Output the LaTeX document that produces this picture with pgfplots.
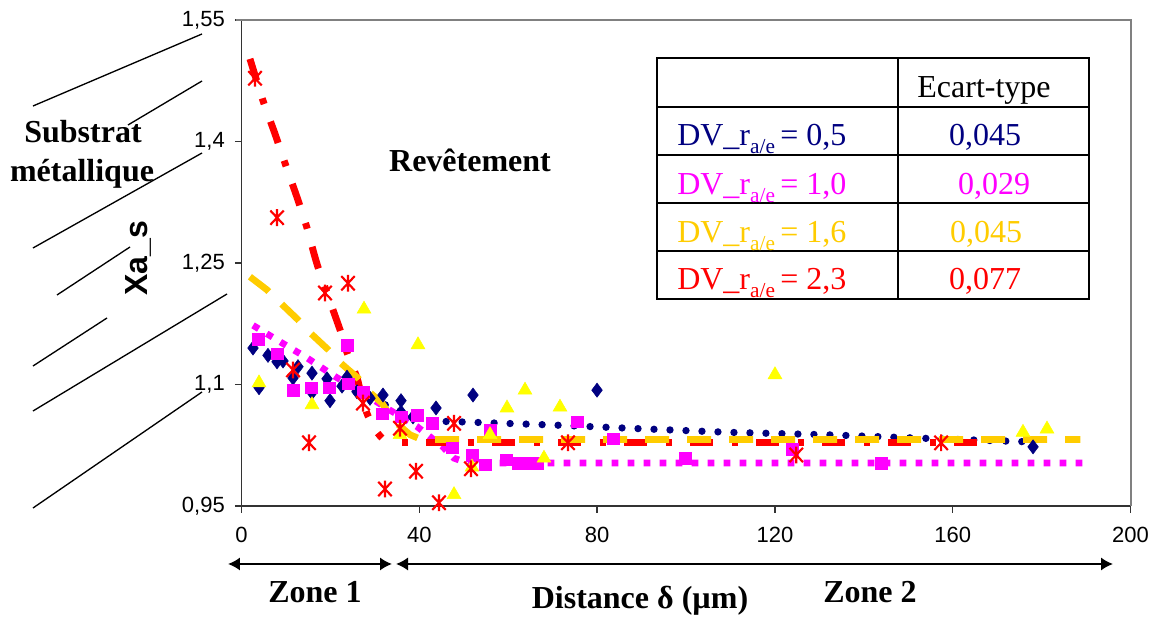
\documentclass[border=0pt]{standalone}
\usepackage{pgfplots}
\pgfplotsset{compat=1.18}
\usepackage{fontspec}
\setmainfont{Liberation Serif}
\setsansfont{Liberation Sans}
\usetikzlibrary{arrows.meta}
\definecolor{navy}{RGB}{0,0,128}
\definecolor{mag}{RGB}{255,0,255}
\definecolor{yel}{RGB}{255,255,0}
\definecolor{gold}{RGB}{255,204,0}
\definecolor{axgray}{RGB}{128,128,128}
\pgfdeclareplotmark{xstar}{%
  \pgfpathmoveto{\pgfqpoint{0pt}{\pgfplotmarksize}}%
  \pgfpathlineto{\pgfqpoint{0pt}{-\pgfplotmarksize}}%
  \pgfpathmoveto{\pgfqpoint{-0.8\pgfplotmarksize}{0.85\pgfplotmarksize}}%
  \pgfpathlineto{\pgfqpoint{0.8\pgfplotmarksize}{-0.85\pgfplotmarksize}}%
  \pgfpathmoveto{\pgfqpoint{-0.8\pgfplotmarksize}{-0.85\pgfplotmarksize}}%
  \pgfpathlineto{\pgfqpoint{0.8\pgfplotmarksize}{0.85\pgfplotmarksize}}%
  \pgfusepathqstroke}
\begin{document}
\begin{tikzpicture}
\begin{axis}[
  scale only axis, width=666.75pt, height=364.5pt,
  xmin=0, xmax=200, ymin=0.95, ymax=1.55,
  xtick={0,40,...,200}, ytick={0.95,1.1,1.25,1.4,1.55},
  axis x line*=bottom, axis y line*=left,
  axis line style={line width=1.3pt, color=black!80, -},
  tick align=outside, major tick length=5pt,
  tick style={line width=1pt, black!80},
  /pgf/number format/assume math mode=true,
  yticklabel style={/pgf/number format/fixed, /pgf/number format/precision=2, /pgf/number format/use comma, xshift=-4pt},
  xticklabel style={yshift=-7pt},
  ticklabel style={font=\sffamily\fontsize{16.5}{18}\selectfont},
  clip=false,
]
% ---- markers ----
\addplot[only marks, mark=diamond*, mark size=5.3pt, color=navy] coordinates {
(2.59,1.145) (3.94,1.096) (5.96,1.136) (7.99,1.128) (9.34,1.129) (11.59,1.108)
(12.71,1.122) (15.86,1.114) (15.86,1.090) (19.24,1.107) (19.91,1.080) (22.61,1.098)
(23.73,1.109) (25.98,1.091) (28.91,1.083) (31.83,1.087) (35.88,1.080) (35.88,1.066)
(38.58,1.060) (43.76,1.071) (52.08,1.087) (79.98,1.093) (178.08,1.023)};
\addplot[only marks, mark=square*, mark size=4.4pt, color=mag] coordinates {
(3.71,1.156) (7.99,1.138) (11.59,1.093) (15.64,1.096) (19.69,1.096) (23.73,1.148)
(23.96,1.101) (27.33,1.090) (31.61,1.064) (35.88,1.060) (39.48,1.062) (42.87,1.052)
(47.37,1.022) (51.86,1.013) (54.78,1.001) (55.91,1.044) (59.51,1.007) (62.21,1.003)
(64.23,1.003) (66.48,1.003) (75.48,1.054) (83.58,1.033) (99.78,1.009) (123.85,1.020)
(143.87,1.003)};
\addplot[only marks, mark=triangle*, mark size=6pt, color=yel] coordinates {
(3.94,1.102) (15.86,1.075) (27.56,1.193) (35.66,1.038) (39.71,1.149) (47.81,0.964)
(51.86,0.998) (55.91,1.038) (59.73,1.071) (63.78,1.093) (68.05,1.009) (71.65,1.072)
(120.02,1.112) (175.81,1.041) (181.21,1.045)};
\addplot[only marks, mark=xstar, mark size=6.3pt, color=red, line width=1.6pt] coordinates {
(3.04,1.478) (7.99,1.306) (11.59,1.118) (15.19,1.028) (18.79,1.213) (23.96,1.225)
(27.33,1.077) (32.28,0.971) (35.66,1.046) (39.26,0.993) (44.43,0.954) (47.81,1.052)
(51.63,0.996) (73.45,1.028) (124.8,1.013) (157.4,1.028)};
% ---- trend lines ----
\addplot[navy, line width=5.5pt, line cap=round, dash pattern=on 0pt off 12pt] coordinates {
(2.6,1.145) (9.3,1.128) (16.1,1.114) (22.8,1.099) (28.9,1.083) (36.1,1.066)
(41.3,1.055) (48.5,1.054) (59.3,1.052) (70,1.050) (91.5,1.045) (109.4,1.041)
(131.3,1.038) (156.5,1.033) (178.1,1.029)};
\addplot[mag, line width=5pt, line cap=butt, dash pattern=on 5pt off 7pt] coordinates {
(2.6,1.173) (8.9,1.152) (14.7,1.133) (21.0,1.110) (27.1,1.090) (33.2,1.069)
(39.5,1.048) (45.3,1.023) (47.8,1.009) (51,1.003) (190,1.003)};
\addplot[red, line width=5.2pt, line cap=butt, dash pattern=on 17pt off 14pt on 4.5pt off 14pt, smooth, tension=0.4] coordinates {
(1.9,1.502) (4.8,1.451) (7.5,1.410) (9.8,1.373) (12.5,1.331) (14.7,1.294)
(17.2,1.245) (22.2,1.167) (23.7,1.140) (26.0,1.108) (27.1,1.083) (28.4,1.062)
(30.5,1.041) (31.6,1.034)};
\addplot[red, line width=5pt, line cap=butt, dash pattern=on 4.5pt off 14pt on 17pt off 14pt] coordinates {
(36,1.028) (169,1.028)};
\addplot[gold, line width=5pt, line cap=butt, dash pattern=on 18pt off 13.5pt] coordinates {
(1.9,1.233) (5.7,1.217) (8.7,1.201) (12.7,1.180) (15.4,1.164) (19.5,1.143)
(22.2,1.127) (26.2,1.108) (28.9,1.090) (31.6,1.077) (34.1,1.056) (37.9,1.038)
(40.5,1.032) (188.7,1.032)};
\end{axis}
\begin{scope}[xshift=-181.125pt, yshift=379.5pt, x=0.75pt, y=-0.75pt]
  % plot-area border (top, right)
  \draw[axgray, line width=1.5pt] (236,20) -- (1131,20) -- (1131,506);
  % substrate hatching
  \draw[line width=1pt] (33,106) -- (202,34);
  \draw[line width=1pt] (128,125) -- (202,81);
  \draw[line width=1pt] (33,248) -- (202,153);
  \draw[line width=1pt] (57,295) -- (130,247);
  \draw[line width=1pt] (33,366) -- (107,318);
  \draw[line width=1pt] (33,411) -- (227,294);
  \draw[line width=1pt] (33,508) -- (202,392);
  \node[anchor=base, inner sep=0pt, font=\bfseries\fontsize{24}{28}\selectfont] at (83,143) {Substrat};
  \node[anchor=base, inner sep=0pt, font=\bfseries\fontsize{24}{28}\selectfont] at (82,182) {métallique};
  \node[anchor=base, rotate=90, inner sep=0pt, font=\sffamily\bfseries\fontsize{24}{28}\selectfont] at (148,258) {Xa\_s};
  \node[anchor=base, inner sep=0pt, font=\bfseries\fontsize{24}{28}\selectfont] at (470,172) {Revêtement};
  % table
  \draw[line width=1.5pt] (657,58) rectangle (1089,299);
  \foreach \yy in {107,155,203,251} \draw[line width=1.5pt] (657,\yy) -- (1089,\yy);
  \draw[line width=1.5pt] (898,58) -- (898,299);
  \def\sub#1{\raisebox{-0.22em}{\fontsize{16}{16}\selectfont #1}}
  \node[anchor=base, inner sep=0pt, font=\fontsize{24}{28}\selectfont] at (984,98) {Ecart-type};
  \node[anchor=base west, inner sep=0pt, text=navy, font=\fontsize{24}{28}\selectfont] at (677,146) {DV\_r\sub{a/e}\,= 0,5};
  \node[anchor=base west, inner sep=0pt, text=mag, font=\fontsize{24}{28}\selectfont] at (677,195) {DV\_r\sub{a/e}\,= 1,0};
  \node[anchor=base west, inner sep=0pt, text=gold, font=\fontsize{24}{28}\selectfont] at (677,243) {DV\_r\sub{a/e}\,= 1,6};
  \node[anchor=base west, inner sep=0pt, text=red, font=\fontsize{24}{28}\selectfont] at (677,290) {DV\_r\sub{a/e}\,= 2,3};
  \node[anchor=base, inner sep=0pt, text=navy, font=\fontsize{24}{28}\selectfont] at (985,146) {0,045};
  \node[anchor=base, inner sep=0pt, text=mag, font=\fontsize{24}{28}\selectfont] at (994,195) {0,029};
  \node[anchor=base, inner sep=0pt, text=gold, font=\fontsize{24}{28}\selectfont] at (986,243) {0,045};
  \node[anchor=base, inner sep=0pt, text=red, font=\fontsize{24}{28}\selectfont] at (985,290) {0,077};
  % zone arrows
  \draw[line width=1.6pt, {Latex[length=9pt,width=10pt]}-{Latex[length=9pt,width=10pt]}] (228,564) -- (392,564);
  \draw[line width=1.6pt, {Latex[length=9pt,width=10pt]}-{Latex[length=9pt,width=10pt]}] (396,564) -- (1113,564);
  \node[anchor=base, inner sep=0pt, font=\bfseries\fontsize{24}{28}\selectfont] at (315,603) {Zone 1};
  \node[anchor=base, inner sep=0pt, font=\bfseries\fontsize{24}{28}\selectfont] at (640,609) {Distance δ (µm)};
  \node[anchor=base, inner sep=0pt, font=\bfseries\fontsize{24}{28}\selectfont] at (870,603) {Zone 2};
  \pgfresetboundingbox
  \path[use as bounding box] (0,0) rectangle (1157,617);
\end{scope}
\end{tikzpicture}
\end{document}
